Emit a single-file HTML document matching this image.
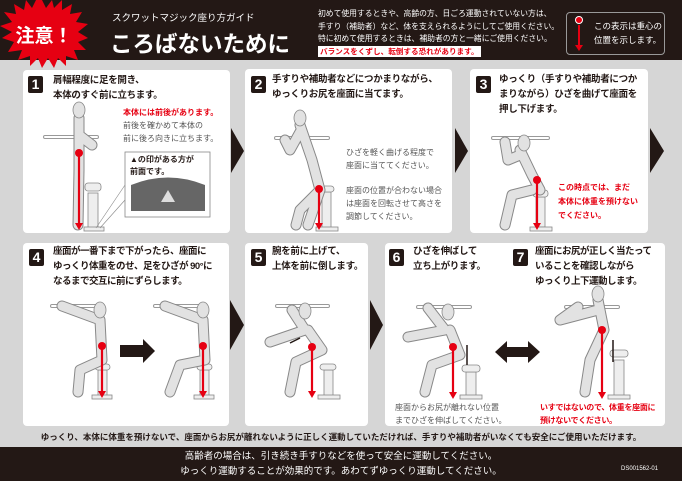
<!DOCTYPE html>
<html><head><meta charset="utf-8"><style>
*{margin:0;padding:0;box-sizing:border-box}
body{width:682px;height:481px;background:#d6d6d6;position:relative;overflow:hidden;font-family:"Liberation Sans","Noto Sans CJK JP",sans-serif;color:#231815}
.a{position:absolute;white-space:nowrap}
.hd{position:absolute;left:0;top:0;width:682px;height:60px;background:#231815}
.ft{position:absolute;left:0;top:447px;width:682px;height:34px;background:#231815}
.p{position:absolute;background:#fff;border-radius:4px}
.n{position:absolute;width:15px;height:17px;background:#231815;color:#fff;font-weight:bold;font-size:14px;text-align:center;line-height:17px;border-radius:2px}
.t{position:absolute;font-weight:bold;font-size:9.5px;line-height:15px;white-space:nowrap;letter-spacing:-0.3px}
.s{position:absolute;font-size:8px;line-height:13px;color:#555;white-space:nowrap}
.r{color:#e60012;font-weight:bold}
</style></head><body>
<div class="hd"></div>
<svg class="a" style="left:0;top:0" width="90" height="70" viewBox="0 0 90 70">
<polygon fill="#e60012" points="42,0 46,8 52,0 54,8 62,0 62,10 72,4 70,14 82,12 76,22 88,24 78,32 88,38 78,42 86,50 74,50 78,60 66,56 66,66 58,58 54,68 48,58 42,68 38,58 30,66 30,56 18,60 22,50 8,52 14,42 2,38 12,32 0,26 12,22 4,12 16,14 14,4 24,10 26,0 32,8 36,0"/>
<text x="44" y="42" fill="#fff" font-size="19" font-weight="bold" text-anchor="middle" font-family="Liberation Sans, Noto Sans CJK JP, sans-serif">注意！</text>
</svg>
<div class="a" style="left:112px;top:10px;color:#fff;font-size:9.5px">スクワットマジック座り方ガイド</div>
<div class="a" style="left:110px;top:27px;color:#fff;font-size:22.5px;font-weight:bold">ころばないために</div>
<div class="a" style="left:318px;top:8px;color:#fff;font-size:7.8px;line-height:12.5px">初めて使用するときや、高齢の方、日ごろ運動されていない方は、<br>手すり（補助者）など、体を支えられるようにしてご使用ください。<br>特に初めて使用するときは、補助者の方と一緒にご使用ください。</div>
<div class="a" style="left:318px;top:46px;background:#fff;color:#e60012;font-size:7.6px;font-weight:bold;padding:0 2px;line-height:11px">バランスをくずし、転倒する恐れがあります。</div>
<div class="a" style="left:566px;top:12px;width:99px;height:43px;border:1px solid #999;border-radius:4px"></div>
<svg class="a" style="left:574px;top:16px" width="14" height="36"><circle cx="5" cy="4" r="3.5" fill="#e60012" stroke="#fff" stroke-width="1"/><line x1="5" y1="9" x2="5" y2="30" stroke="#e60012" stroke-width="2"/><polygon points="1,29 9,29 5,35" fill="#e60012"/></svg>
<div class="a" style="left:594px;top:19px;color:#fff;font-size:8.5px;line-height:14px">この表示は重心の<br>位置を示します。</div>

<div class="p" style="left:23px;top:70px;width:207px;height:163px"></div>
<div class="p" style="left:245px;top:69px;width:207px;height:164px"></div>
<div class="p" style="left:470px;top:69px;width:178px;height:164px"></div>
<div class="p" style="left:23px;top:243px;width:206px;height:183px"></div>
<div class="p" style="left:245px;top:243px;width:123px;height:183px"></div>
<div class="p" style="left:385px;top:243px;width:280px;height:183px"></div>

<svg class="a" style="left:0;top:0" width="682" height="481">
<g fill="#231815">
<polygon points="231,128 244,151 231,173"/><polygon points="455,128 468,151 455,173"/><polygon points="650,128 664,151 650,173"/>
<polygon points="230,300 244,325 230,350"/><polygon points="370,300 383,325 370,350"/>
<polygon points="120,345 143,345 143,339 155,351 143,363 143,357 120,357"/>
<polygon points="495,352 507,341 507,347 528,347 528,341 540,352 528,363 528,357 507,357 507,363"/>
</g>
<g stroke="#999" stroke-width="4" stroke-linecap="round"><line x1="45" y1="137" x2="97" y2="137"/><line x1="276" y1="138" x2="328" y2="138"/><line x1="493" y1="138" x2="548" y2="138"/>
<line x1="52" y1="306" x2="100" y2="306"/><line x1="155" y1="306" x2="205" y2="306"/><line x1="277" y1="306" x2="328" y2="306"/><line x1="418" y1="307" x2="470" y2="307"/><line x1="566" y1="307" x2="618" y2="307"/></g>
<g stroke="#fff" stroke-width="2" stroke-linecap="round"><line x1="45" y1="137" x2="97" y2="137"/><line x1="276" y1="138" x2="328" y2="138"/><line x1="493" y1="138" x2="548" y2="138"/>
<line x1="52" y1="306" x2="100" y2="306"/><line x1="155" y1="306" x2="205" y2="306"/><line x1="277" y1="306" x2="328" y2="306"/><line x1="418" y1="307" x2="470" y2="307"/><line x1="566" y1="307" x2="618" y2="307"/></g>
<g fill="#eee" stroke="#888" stroke-width="0.8">
<rect x="88" y="193" width="10" height="35"/><rect x="85" y="183" width="16" height="8" rx="3"/><rect x="84" y="227" width="20" height="4"/>
<rect x="322" y="192" width="9" height="36"/><rect x="318" y="186" width="16" height="6" rx="3"/><rect x="316" y="227" width="22" height="4"/>
<rect x="536" y="197" width="9" height="30"/><rect x="533" y="190" width="15" height="7" rx="3"/><rect x="530" y="227" width="22" height="4"/>
<rect x="98" y="370" width="9" height="26"/><rect x="95" y="364" width="15" height="6" rx="3"/><rect x="92" y="395" width="20" height="4"/>
<rect x="200" y="370" width="9" height="26"/><rect x="197" y="364" width="15" height="6" rx="3"/><rect x="194" y="395" width="20" height="4"/>
<rect x="324" y="370" width="9" height="26"/><rect x="320" y="364" width="16" height="6" rx="3"/><rect x="318" y="395" width="22" height="4"/>
<rect x="466" y="372" width="10" height="24"/><rect x="462" y="365" width="18" height="7" rx="3"/><rect x="460" y="395" width="22" height="4"/>
<rect x="614" y="360" width="10" height="36"/><rect x="610" y="350" width="18" height="7" rx="3"/><rect x="608" y="395" width="22" height="4"/>
</g>
<g fill="none" stroke="#888" stroke-width="11" stroke-linecap="round" stroke-linejoin="round">
<path d="M79,118 L79,170 L78,225 M79,135 L92,145"/>
<path d="M300,125 L312,160 L320,190 L308,225 M300,132 L290,150 L285,140 M320,190 L300,210 L296,225"/>
<path d="M520,150 L532,175 L540,190 M520,155 L508,160 L505,142 M532,190 L512,195 L505,225"/>
<path d="M100,320 L102,360 L80,370 L78,392 M100,320 L62,306"/>
<path d="M203,320 L205,360 L180,365 L170,392 M203,320 L165,306"/>
<path d="M308,330 L322,350 L296,362 L290,392 M305,330 L270,342 M305,330 L292,310"/>
<path d="M450,330 L460,355 L432,365 L425,392 M445,330 L408,337 M445,330 L428,308"/>
<path d="M598,300 L604,330 L590,360 L585,392 M598,310 L560,320 L578,307"/>
</g>
<g fill="none" stroke="#e2e2e2" stroke-width="9" stroke-linecap="round" stroke-linejoin="round">
<path d="M79,118 L79,170 L78,225 M79,135 L92,145"/>
<path d="M300,125 L312,160 L320,190 L308,225 M300,132 L290,150 L285,140 M320,190 L300,210 L296,225"/>
<path d="M520,150 L532,175 L540,190 M520,155 L508,160 L505,142 M532,190 L512,195 L505,225"/>
<path d="M100,320 L102,360 L80,370 L78,392 M100,320 L62,306"/>
<path d="M203,320 L205,360 L180,365 L170,392 M203,320 L165,306"/>
<path d="M308,330 L322,350 L296,362 L290,392 M305,330 L270,342 M305,330 L292,310"/>
<path d="M450,330 L460,355 L432,365 L425,392 M445,330 L408,337 M445,330 L428,308"/>
<path d="M598,300 L604,330 L590,360 L585,392 M598,310 L560,320 L578,307"/>
</g>
<g fill="#e2e2e2" stroke="#888" stroke-width="0.8">
<ellipse cx="79" cy="110" rx="6" ry="8"/><ellipse cx="300" cy="118" rx="6" ry="8"/><ellipse cx="524" cy="143" rx="6" ry="8"/>
<ellipse cx="100" cy="310" rx="6" ry="8"/><ellipse cx="203" cy="310" rx="6" ry="8"/><ellipse cx="305" cy="311" rx="6" ry="8"/><ellipse cx="448" cy="312" rx="6" ry="8"/><ellipse cx="598" cy="294" rx="6" ry="8"/>
</g>
<g stroke="#e60012" stroke-width="2.2"><line x1="79" y1="153" x2="79" y2="224"/><line x1="319" y1="192" x2="319" y2="224"/><line x1="537" y1="182" x2="537" y2="224"/><line x1="102" y1="347" x2="102" y2="392"/><line x1="203" y1="347" x2="203" y2="392"/><line x1="312" y1="348" x2="312" y2="392"/><line x1="453" y1="347" x2="453" y2="393"/><line x1="602" y1="330" x2="602" y2="393"/></g>
<g fill="#e60012"><polygon points="75,223 83,223 79,230"/><polygon points="315,223 323,223 319,230"/><polygon points="533,223 541,223 537,230"/><polygon points="98,391 106,391 102,398"/><polygon points="199,391 207,391 203,398"/><polygon points="308,391 316,391 312,398"/><polygon points="449,392 457,392 453,399"/><polygon points="598,392 606,392 602,399"/>
<circle cx="79" cy="153" r="4"/><circle cx="319" cy="189" r="4"/><circle cx="537" cy="180" r="4"/><circle cx="102" cy="346" r="4"/><circle cx="203" cy="346" r="4"/><circle cx="312" cy="347" r="4"/><circle cx="453" cy="347" r="4"/><circle cx="602" cy="330" r="4"/></g>
<g stroke="#231815" stroke-width="1.5"><line x1="467" y1="365" x2="467" y2="345"/><line x1="613" y1="340" x2="613" y2="362"/><line x1="300" y1="338" x2="290" y2="343"/></g>
<rect x="125" y="152" width="85" height="65" fill="#fff" stroke="#888" stroke-width="0.8"/>
<path d="M131,185 Q168,170 205,185 L205,211 L131,211 Z" fill="#666"/>
<polygon points="168,190 161,202 175,202" fill="#ddd"/>
<line x1="125" y1="185" x2="96" y2="228" stroke="#888" stroke-width="0.6"/><line x1="125" y1="200" x2="100" y2="228" stroke="#888" stroke-width="0.6"/>
</svg>

<div class="n" style="left:28px;top:76px">1</div>
<div class="t" style="left:53px;top:73px">肩幅程度に足を開き、<br>本体のすぐ前に立ちます。</div>
<div class="s r" style="left:123px;top:106px">本体には前後があります。</div>
<div class="s" style="left:123px;top:119px">前後を確かめて本体の<br>前に後ろ向きに立ちます。</div>
<div class="s" style="left:130px;top:154px;color:#231815;font-weight:bold;line-height:12px">▲の印がある方が<br>前面です。</div>

<div class="n" style="left:251px;top:76px">2</div>
<div class="t" style="left:272px;top:72px">手すりや補助者などにつかまりながら、<br>ゆっくりお尻を座面に当てます。</div>
<div class="s" style="left:346px;top:146px">ひざを軽く曲げる程度で<br>座面に当ててください。</div>
<div class="s" style="left:346px;top:184px">座面の位置が合わない場合<br>は座面を回転させて高さを<br>調節してください。</div>

<div class="n" style="left:476px;top:76px">3</div>
<div class="t" style="left:499px;top:72px">ゆっくり（手すりや補助者につか<br>まりながら）ひざを曲げて座面を<br>押し下げます。</div>
<div class="s r" style="left:558px;top:181px;line-height:14px">この時点では、まだ<br>本体に体重を預けない<br>でください。</div>

<div class="n" style="left:29px;top:249px">4</div>
<div class="t" style="left:53px;top:244px;letter-spacing:-0.5px">座面が一番下まで下がったら、座面に<br>ゆっくり体重をのせ、足をひざが 90°に<br>なるまで交互に前にずらします。</div>
<div class="n" style="left:251px;top:249px">5</div>
<div class="t" style="left:272px;top:244px">腕を前に上げて、<br>上体を前に倒します。</div>
<div class="n" style="left:389px;top:249px">6</div>
<div class="t" style="left:413px;top:244px">ひざを伸ばして<br>立ち上がります。</div>
<div class="n" style="left:513px;top:249px">7</div>
<div class="t" style="left:535px;top:244px;letter-spacing:-0.5px">座面にお尻が正しく当たって<br>いることを確認しながら<br>ゆっくり上下運動します。</div>
<div class="s" style="left:395px;top:401px">座面からお尻が離れない位置<br>までひざを伸ばしてください。</div>
<div class="s r" style="left:540px;top:401px;letter-spacing:-0.3px">いすではないので、体重を座面に<br>預けないでください。</div>

<div class="a" style="left:0;width:682px;text-align:center;top:431px;font-size:8.5px;font-weight:bold">ゆっくり、本体に体重を預けないで、座面からお尻が離れないように正しく運動していただければ、手すりや補助者がいなくても安全にご使用いただけます。</div>
<div class="ft"></div>
<div class="a" style="left:0;width:682px;text-align:center;top:449px;color:#fff;font-size:9.5px;line-height:15px">高齢者の場合は、引き続き手すりなどを使って安全に運動してください。<br>ゆっくり運動することが効果的です。あわてずゆっくり運動してください。</div>
<div class="a" style="left:621px;top:466px;color:#fff;font-size:6px">DS001562-01</div>
</body></html>
